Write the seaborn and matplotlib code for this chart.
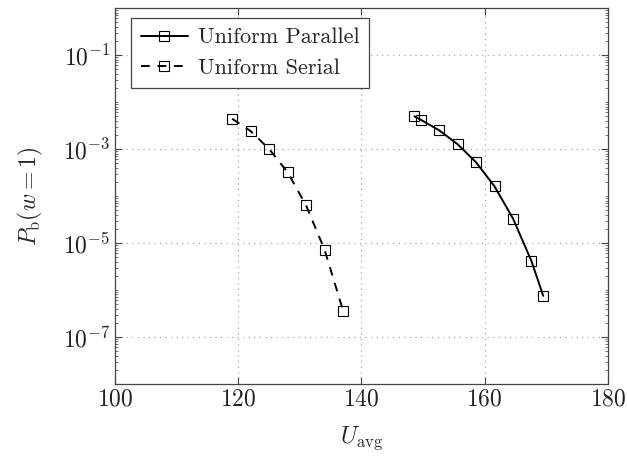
import numpy as np
import pandas as pd
import seaborn as sns
import matplotlib
matplotlib.use("Agg")
import matplotlib.pyplot as plt
from matplotlib.ticker import LogLocator, NullFormatter, FixedLocator

# Data
par_x = [148.6, 149.6, 152.6, 155.6, 158.6, 161.6, 164.6, 167.6, 169.5]
par_y = [4.95e-3, 4.2e-3, 2.5e-3, 1.26e-3, 5.2e-4, 1.6e-4, 3.3e-5, 4.1e-6, 7.5e-7]
ser_x = [119, 122, 125, 128, 131, 134, 137]
ser_y = [4.4e-3, 2.4e-3, 1.0e-3, 3.2e-4, 6.3e-5, 7.2e-6, 3.65e-7]
series_names = ["Uniform Parallel", "Uniform Serial"]
x_ticks = [100, 120, 140, 160, 180]
y_ticks = [1e-7, 1e-5, 1e-3, 1e-1]

df = pd.concat([
    pd.DataFrame({"U": par_x, "P": par_y, "series": series_names[0]}),
    pd.DataFrame({"U": ser_x, "P": ser_y, "series": series_names[1]}),
])

sns.set_theme(style="ticks")
plt.rcParams["font.family"] = ["cmr10", "DejaVu Serif"]
plt.rcParams["mathtext.fontset"] = "cm"
plt.rcParams["axes.formatter.use_mathtext"] = True

fig = plt.figure(figsize=(6.27, 4.62), dpi=100)
ax = fig.add_axes([0.1836, 0.169, 0.9695 - 0.1836, 0.9827 - 0.169])

sns.lineplot(data=df, x="U", y="P", hue="series", style="series",
             hue_order=series_names, style_order=series_names,
             palette=["black", "black"],
             dashes={series_names[0]: "", series_names[1]: (4.5, 4)},
             markers={series_names[0]: "s", series_names[1]: "s"},
             markersize=7, markerfacecolor="none", markeredgecolor="black",
             markeredgewidth=0.8, linewidth=1.4, ax=ax, sort=False,
             estimator=None)

ax.set_yscale("log")
ax.set_xlim(100, 180)
ax.set_ylim(1e-8, 1)
ax.set_xticks(x_ticks)
ax.yaxis.set_major_locator(FixedLocator(y_ticks))
ax.yaxis.set_minor_locator(LogLocator(base=10, subs=np.arange(1, 10), numticks=100))
ax.yaxis.set_minor_formatter(NullFormatter())
ax.grid(True, which="major", linestyle=(0, (1, 4)), color="#999999", linewidth=0.8)
ax.tick_params(which="both", direction="in", top=True, right=True, colors="#444444",
               labelcolor="#222222", labelsize=17)
ax.tick_params(which="major", length=5, width=0.8)
ax.tick_params(which="minor", length=2.5, width=0.5)
for s in ax.spines.values():
    s.set_color("#444444")
    s.set_linewidth(0.9)

ax.set_xlabel(r"$U_{\mathrm{avg}}$", fontsize=17, labelpad=10)
ax.set_ylabel(r"$P_{\mathrm{b}}(w=1)$", fontsize=17, labelpad=13)

leg = ax.legend(loc="upper left", bbox_to_anchor=(0.032, 0.974), borderaxespad=0,
                fontsize=16, frameon=True, fancybox=False,
                edgecolor="#444444", framealpha=1, borderpad=0.45,
                handlelength=2.1, handletextpad=0.45, labelspacing=0.5)
leg.get_frame().set_linewidth(0.9)

fig.savefig("out.png", dpi=100)
